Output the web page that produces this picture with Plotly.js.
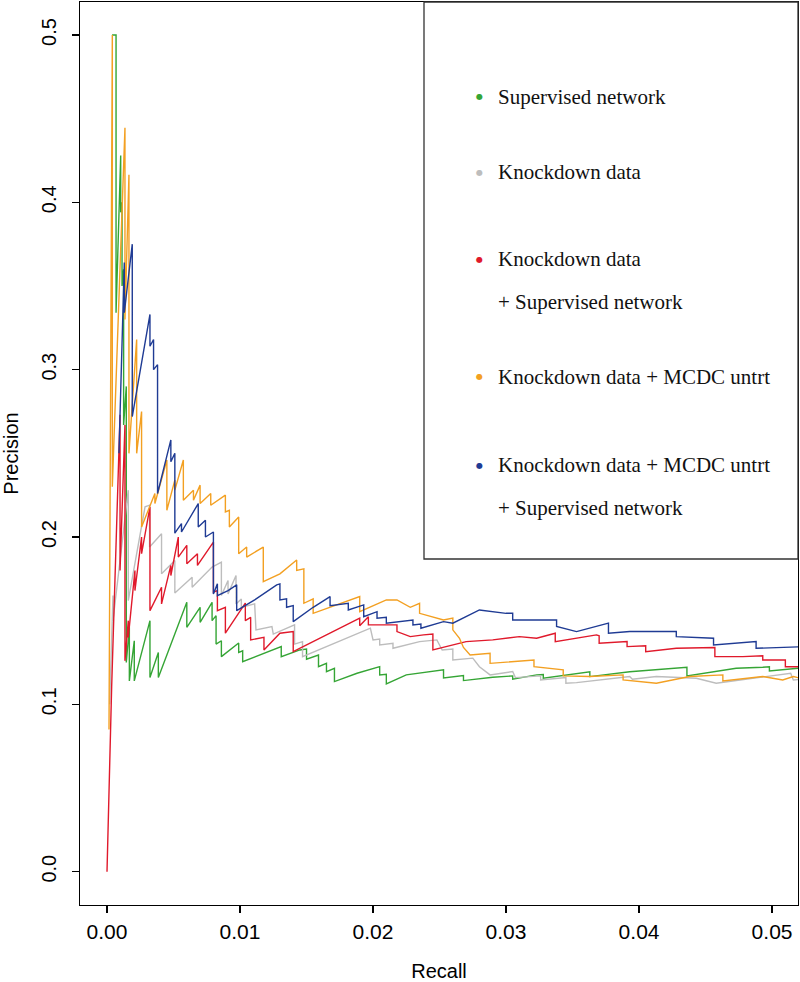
<!DOCTYPE html>
<html>
<head>
<meta charset="utf-8">
<script src="https://cdn.plot.ly/plotly-3.0.1.min.js"></script>
<style>html,body{margin:0;padding:0;background:#fff;}#chart{width:800px;height:982px;}</style>
</head>
<body>
<div id="chart"></div>
<script>
// ---- data ----
const seriesNames = ["Supervised network", "Knockdown data", "Knockdown data<br>+ Supervised network",
                     "Knockdown data + MCDC untrt", "Knockdown data + MCDC untrt<br>+ Supervised network"];

const greenX = [0.00038,0.00068,0.00068,0.00103,0.00103,0.00113,0.00113,0.00125,0.00125,0.00145,0.00145,0.00168,0.00168,0.00205,0.00205,0.00323,0.00323,0.00386,0.00386,0.0060,0.0060,0.0070,0.0070,0.0079,0.0079,0.0082,0.0082,0.0086,0.0086,0.0099,0.0099,0.0102,0.0102,0.0124,0.0131,0.0131,0.0145,0.0150,0.0150,0.0159,0.0159,0.0165,0.0165,0.0171,0.0171,0.0188,0.0205,0.0205,0.0210,0.0210,0.0225,0.0253,0.0253,0.0268,0.0268,0.0290,0.0305,0.0305,0.0323,0.0328,0.0328,0.0363,0.0363,0.0393,0.0436,0.0436,0.0473,0.0493,0.0498,0.0498,0.0516,0.0525];
const greenY = [0.5,0.5,0.334,0.428,0.394,0.40,0.35,0.36,0.267,0.29,0.125,0.146,0.114,0.138,0.114,0.150,0.116,0.131,0.116,0.161,0.146,0.158,0.149,0.161,0.150,0.153,0.136,0.138,0.1285,0.1367,0.131,0.132,0.1255,0.1325,0.1345,0.1285,0.1325,0.1330,0.127,0.1295,0.1225,0.1245,0.1195,0.1215,0.1136,0.1186,0.1225,0.1176,0.1180,0.1122,0.1176,0.1206,0.1158,0.1172,0.1142,0.1162,0.1170,0.1150,0.1176,0.1178,0.1156,0.1195,0.1166,0.1195,0.1222,0.1170,0.1216,0.1222,0.1225,0.1200,0.1216,0.1220];

const grayX = [0.0002,0.00045,0.00045,0.0016,0.0016,0.00286,0.0032,0.0032,0.0041,0.0041,0.0051,0.0051,0.0064,0.0064,0.0079,0.0086,0.0086,0.0091,0.0091,0.0097,0.0097,0.0101,0.0101,0.0111,0.0112,0.0124,0.0125,0.0141,0.0141,0.0147,0.0147,0.0198,0.0200,0.0205,0.0205,0.0215,0.0215,0.0235,0.0248,0.0252,0.0260,0.0260,0.0275,0.0280,0.0288,0.0305,0.0307,0.0326,0.0326,0.0345,0.0345,0.0353,0.0393,0.0395,0.0413,0.0443,0.0458,0.0493,0.0514,0.0516,0.0525];
const grayY = [0.10,0.165,0.15,0.228,0.162,0.218,0.219,0.194,0.202,0.178,0.186,0.1665,0.176,0.170,0.182,0.185,0.165,0.174,0.166,0.177,0.160,0.163,0.158,0.160,0.1445,0.1465,0.1420,0.1475,0.136,0.1375,0.1285,0.1455,0.1385,0.1390,0.1355,0.1365,0.1335,0.1375,0.1385,0.1325,0.1330,0.1265,0.1276,0.1225,0.1176,0.1196,0.1160,0.1170,0.1146,0.1160,0.1126,0.1130,0.1166,0.1150,0.1166,0.1156,0.1126,0.1166,0.1186,0.1146,0.1150];

const redX = [0,0.00035,0.00098,0.00098,0.00135,0.00135,0.0016,0.0016,0.0021,0.0021,0.0026,0.0026,0.00323,0.00323,0.0041,0.0041,0.0048,0.0048,0.00536,0.00536,0.0060,0.0060,0.0068,0.0068,0.0080,0.0080,0.0083,0.0083,0.0089,0.0089,0.0104,0.0104,0.0108,0.0108,0.0118,0.0118,0.0130,0.0140,0.0140,0.0190,0.0190,0.01965,0.01965,0.0218,0.0218,0.0228,0.0238,0.0245,0.0245,0.0270,0.0290,0.0310,0.0323,0.0337,0.0337,0.0368,0.0370,0.0370,0.0391,0.0391,0.0405,0.0405,0.0428,0.0457,0.0457,0.0478,0.0493,0.0493,0.0510,0.0510,0.0525];
const redY = [0,0.1105,0.273,0.18,0.267,0.126,0.15,0.14,0.18,0.168,0.20,0.19,0.218,0.156,0.170,0.160,0.183,0.177,0.200,0.188,0.195,0.184,0.190,0.183,0.197,0.167,0.168,0.156,0.158,0.1425,0.1605,0.150,0.152,0.1385,0.140,0.1325,0.1425,0.1435,0.1315,0.1515,0.147,0.1524,0.1475,0.1475,0.1435,0.1405,0.1415,0.1420,0.1325,0.1375,0.1385,0.1405,0.1395,0.1425,0.1375,0.1415,0.1410,0.1365,0.1375,0.1345,0.1350,0.1315,0.1335,0.1340,0.1285,0.1285,0.1290,0.1265,0.1265,0.1225,0.1225];

const orangeX = [0.00015,0.0004,0.0004,0.00135,0.00135,0.00165,0.00165,0.00223,0.00223,0.0026,0.0026,0.0036,0.0036,0.0045,0.0045,0.0051,0.0051,0.00574,0.00574,0.0065,0.0065,0.0070,0.0070,0.0078,0.0078,0.0089,0.0089,0.0092,0.0092,0.0099,0.0099,0.0105,0.0105,0.01175,0.01175,0.0130,0.01426,0.01426,0.0148,0.0148,0.0155,0.0155,0.0190,0.0190,0.0210,0.0218,0.0228,0.0235,0.0235,0.0253,0.0260,0.0260,0.0265,0.0268,0.0273,0.0288,0.0288,0.0321,0.0321,0.0343,0.0343,0.0363,0.0388,0.0388,0.0413,0.0438,0.0463,0.0463,0.0493,0.0508,0.0516,0.0525];
const orangeY = [0.085,0.5,0.23,0.4445,0.33,0.4165,0.25,0.318,0.25,0.275,0.206,0.226,0.220,0.246,0.216,0.234,0.228,0.246,0.222,0.228,0.222,0.231,0.220,0.226,0.219,0.225,0.215,0.216,0.206,0.212,0.190,0.194,0.188,0.194,0.1733,0.178,0.1863,0.180,0.181,0.1604,0.1630,0.1544,0.1644,0.1554,0.1624,0.1624,0.1580,0.1604,0.1544,0.1504,0.1515,0.1445,0.1395,0.1340,0.1295,0.1305,0.1245,0.1265,0.1225,0.1206,0.1170,0.1166,0.1176,0.1146,0.1126,0.1166,0.1176,0.1140,0.1166,0.1146,0.1166,0.1150];

const blueX = [0.0009,0.0013,0.0013,0.0019,0.0019,0.00323,0.00323,0.0035,0.0035,0.0038,0.0038,0.0048,0.0048,0.0051,0.0051,0.0056,0.0056,0.00686,0.00686,0.0074,0.0074,0.0080,0.0080,0.0083,0.0083,0.0091,0.00975,0.00975,0.0111,0.01276,0.0130,0.0130,0.0135,0.0135,0.0140,0.0140,0.0155,0.01677,0.01677,0.01814,0.01814,0.0193,0.0193,0.0203,0.0203,0.0210,0.0210,0.0230,0.0230,0.0236,0.0236,0.0253,0.0260,0.0280,0.0300,0.0305,0.0305,0.0338,0.0338,0.0353,0.0377,0.0377,0.0393,0.0428,0.0428,0.0456,0.0456,0.0488,0.0488,0.0519,0.0525];
const blueY = [0.25,0.364,0.334,0.375,0.272,0.333,0.314,0.318,0.300,0.303,0.226,0.258,0.245,0.250,0.2023,0.208,0.203,0.220,0.206,0.210,0.200,0.203,0.166,0.172,0.165,0.168,0.1714,0.156,0.1624,0.1714,0.1720,0.1624,0.1630,0.158,0.1590,0.1494,0.158,0.1644,0.1590,0.1604,0.1564,0.1594,0.1524,0.1554,0.1515,0.1520,0.1485,0.1504,0.1475,0.1480,0.1455,0.1494,0.1485,0.1564,0.1544,0.1545,0.1504,0.1504,0.1465,0.1435,0.1485,0.1425,0.1435,0.1435,0.1405,0.1395,0.1355,0.1375,0.1335,0.1345,0.1345];

const xTickVals = [0, 0.01, 0.02, 0.03, 0.04, 0.05];
const xTickText = ["0.00", "0.01", "0.02", "0.03", "0.04", "0.05"];
const yTickVals = [0, 0.1, 0.2, 0.3, 0.4, 0.5];
const yTickText = ["0.0", "0.1", "0.2", "0.3", "0.4", "0.5"];

// ---- styles ----
const colors = ["#35a535", "#bdbdbd", "#e0192b", "#f3a022", "#1f3b94"];
const seriesX = [greenX, grayX, redX, orangeX, blueX];
const seriesY = [greenY, grayY, redY, orangeY, blueY];

const traces = seriesX.map((xs, i) => ({
  type: "scatter", mode: "lines", x: xs, y: seriesY[i], name: seriesNames[i],
  line: {color: colors[i], width: 1.4}, showlegend: false, hoverinfo: "skip"
}));

// plot area in pixels
const L = 80, R = 798, T = 2, B = 905;
const W = 800, H = 982;
const px = v => (v - L) / (R - L);
const py = v => (B - v) / (B - T);

const serifFont = "Times New Roman, Liberation Serif, DejaVu Serif, serif";
const legendRows = [
  {dot: 0, y: 97, text: "Supervised network"},
  {dot: 1, y: 172, text: "Knockdown data"},
  {dot: 2, y: 259, text: "Knockdown data"},
  {dot: null, y: 302, text: "+ Supervised network"},
  {dot: 3, y: 377, text: "Knockdown data + MCDC untrt"},
  {dot: 4, y: 465, text: "Knockdown data + MCDC untrt"},
  {dot: null, y: 508, text: "+ Supervised network"}
];
const annotations = [];
legendRows.forEach(r => {
  annotations.push({xref: "paper", yref: "paper", x: px(496), y: py(r.y), xanchor: "left", yanchor: "middle",
    text: r.text, showarrow: false, font: {family: serifFont, size: 21, color: "#111"}});
  if (r.dot !== null) {
    annotations.push({xref: "paper", yref: "paper", x: px(479), y: py(r.y), xanchor: "center", yanchor: "middle",
      text: "●", showarrow: false, font: {family: "DejaVu Sans", size: 8, color: colors[r.dot]}});
  }
});

const axisFont = {family: "Liberation Sans", size: 20, color: "#000"};
const layout = {
  width: W, height: H,
  margin: {l: L, r: W - R, t: T, b: H - B, pad: 0},
  paper_bgcolor: "#fff", plot_bgcolor: "#fff",
  showlegend: false,
  xaxis: {
    range: [-0.00203, 0.05195], autorange: false,
    tickmode: "array", tickvals: xTickVals, ticktext: xTickText,
    ticks: "outside", ticklen: 7, tickwidth: 1.2, tickcolor: "#000",
    showline: true, linecolor: "#000", linewidth: 1.3, mirror: true,
    showgrid: false, zeroline: false,
    tickfont: {family: "Liberation Sans", size: 21, color: "#000"},
    ticklabelstandoff: 0,
    title: {text: "Recall", font: axisFont, standoff: 28},
    automargin: false
  },
  yaxis: {
    range: [-0.0199, 0.5197], autorange: false,
    tickmode: "array", tickvals: yTickVals, ticktext: yTickText,
    ticks: "outside", ticklen: 7, tickwidth: 1.2, tickcolor: "#000",
    showline: true, linecolor: "#000", linewidth: 1.3, mirror: true,
    showgrid: false, zeroline: false,
    tickangle: -90,
    tickfont: axisFont,
    ticklabelstandoff: 8,
    title: {text: "Precision", font: axisFont, standoff: 18},
    automargin: false
  },
  shapes: [{
    type: "rect", xref: "paper", yref: "paper",
    x0: px(424), x1: 1, y0: py(559), y1: 1,
    line: {color: "#333", width: 1.3}, fillcolor: "rgba(0,0,0,0)"
  }],
  annotations: annotations
};

Plotly.newPlot("chart", traces, layout, {staticPlot: true, displayModeBar: false});
</script>
</body>
</html>
